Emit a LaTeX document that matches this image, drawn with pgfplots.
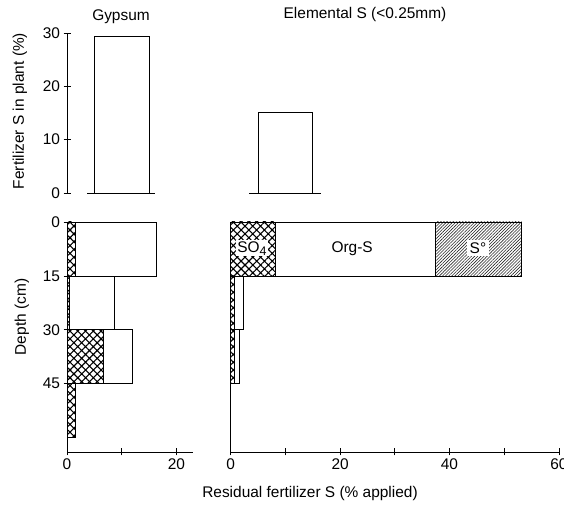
\documentclass[border=0pt]{standalone}
\usepackage{fontspec}
\setmainfont{Liberation Sans}
\usepackage{pgfplots}
\pgfplotsset{compat=1.18}
\usetikzlibrary{patterns.meta}

\newcommand{\lblfont}{\fontsize{15.5}{18}\selectfont}

\tikzset{
  so4/.style={draw=black, line width=0.8bp,
    pattern={Hatch[angle=45,distance=5.5bp,line width=1.1bp]}},
  orgs/.style={draw=black, line width=0.8bp, fill=white},
  selem/.style={draw=black, line width=0.8bp,
    pattern={Lines[angle=45,distance=2.2bp,line width=0.6bp]}, pattern color=black!85},
  plantbar/.style={draw=black, line width=0.8bp, fill=white},
}

\pgfplotsset{
  panel/.style={
    scale only axis, anchor=south west, clip=false,
    axis line style={-, line width=0.8bp},
    every outer x axis line/.append style={-},
    every outer y axis line/.append style={-},
    every inner x axis line/.append style={-},
    every inner y axis line/.append style={-},
    tick style={black, line width=0.8bp},
    tick align=outside, major tick length=7bp,
    tick label style={font=\lblfont},
    /pgf/number format/assume math mode=true,
  },
}

\begin{document}
\begin{tikzpicture}
\useasboundingbox (0,0) rectangle (564bp,510bp);

% ---------- fertilizer S taken up by the plant ----------
\begin{axis}[panel, at={(67bp,317bp)}, width=125.8bp, height=160bp,
  xmin=0, xmax=23, ymin=0, ymax=30,
  axis x line=none, axis y line=left,
  every outer y axis line/.append style={-},
  ytick={0,10,20,30}]
  \addplot[black, line width=0.8bp] coordinates {(3.7,0) (16.1,0)};
  \addplot[plantbar] coordinates {(5,0) (5,29.3) (15,29.3) (15,0)} -- cycle;
\end{axis}

\begin{axis}[panel, at={(230.7bp,317bp)}, width=328.2bp, height=160bp,
  xmin=0, xmax=60, ymin=0, ymax=30, axis lines=none]
  \addplot[black, line width=0.8bp] coordinates {(3.35,0) (16.5,0)};
  \addplot[plantbar] coordinates {(5,0) (5,15.2) (14.9,15.2) (14.9,0)} -- cycle;
\end{axis}

% ---------- residual fertilizer S by depth: gypsum ----------
\begin{axis}[panel, at={(67bp,58bp)}, width=125.8bp, height=230bp,
  xmin=0, xmax=23, ymin=-64, ymax=0,
  axis x line=bottom, axis y line=left,
  every outer x axis line/.append style={-},
  every outer y axis line/.append style={-},
  xtick={0,10,20}, xticklabels={0,,20},
  ytick={-45,-30,-15,0}, yticklabels={45,30,15,0}]
  % 0-15 cm
  \addplot[orgs] coordinates {(0,0) (16.4,0) (16.4,-15) (0,-15)} -- cycle;
  \addplot[so4]  coordinates {(0,0) (1.5,0) (1.5,-15) (0,-15)} -- cycle;
  % 15-30 cm
  \addplot[orgs] coordinates {(0,-15) (8.7,-15) (8.7,-30) (0,-30)} -- cycle;
  \addplot[so4]  coordinates {(0,-15) (0.4,-15) (0.4,-30) (0,-30)} -- cycle;
  % 30-45 cm
  \addplot[orgs] coordinates {(0,-30) (12.0,-30) (12.0,-45) (0,-45)} -- cycle;
  \addplot[so4]  coordinates {(0,-30) (6.7,-30) (6.7,-45) (0,-45)} -- cycle;
  % 45-60 cm
  \addplot[so4]  coordinates {(0,-45) (1.6,-45) (1.6,-60) (0,-60)} -- cycle;
\end{axis}

% ---------- residual fertilizer S by depth: elemental S ----------
\begin{axis}[panel, at={(230.7bp,58bp)}, width=328.2bp, height=230bp,
  xmin=0, xmax=60, ymin=-64, ymax=0,
  axis x line=bottom, axis y line=left,
  every outer x axis line/.append style={-},
  every outer y axis line/.append style={-},
  xtick={0,10,...,60}, xticklabels={0,,20,,40,,60}, ytick=\empty]
  % 0-15 cm
  \addplot[selem] coordinates {(37.5,0) (53.2,0) (53.2,-15) (37.5,-15)} -- cycle;
  \addplot[orgs]  coordinates {(8.1,0) (37.5,0) (37.5,-15) (8.1,-15)} -- cycle;
  \addplot[so4]   coordinates {(0,0) (8.1,0) (8.1,-15) (0,-15)} -- cycle;
  % 15-30 cm
  \addplot[orgs] coordinates {(0,-15) (2.4,-15) (2.4,-30) (0,-30)} -- cycle;
  \addplot[so4]  coordinates {(0,-15) (0.6,-15) (0.6,-30) (0,-30)} -- cycle;
  % 30-45 cm
  \addplot[orgs] coordinates {(0,-30) (1.6,-30) (1.6,-45) (0,-45)} -- cycle;
  \addplot[so4]  coordinates {(0,-30) (0.6,-30) (0.6,-45) (0,-45)} -- cycle;
  % fraction names
  \node[fill=white, inner sep=1bp, font=\lblfont] at (axis cs:3.9,-7.3)
    {SO\raisebox{-0.35ex}{\fontsize{12.5}{14}\selectfont 4}};
  \node[font=\lblfont] at (axis cs:22.2,-7.3) {Org-S};
  \node[fill=white, inner sep=2.5bp, font=\lblfont] at (axis cs:45.2,-7.3) {S°};
\end{axis}

% ---------- titles and axis labels ----------
\node[font=\lblfont] at (121bp,493bp) {Gypsum};
\node[font=\lblfont] at (365bp,495bp) {Elemental S (<0.25mm)};
\node[font=\lblfont, rotate=90] at (20bp,399bp) {Fertilizer S in plant (\%)};
\node[font=\lblfont, rotate=90] at (22bp,193bp) {Depth (cm)};
\node[font=\lblfont] at (310bp,16bp) {Residual fertilizer S (\% applied)};
\end{tikzpicture}
\end{document}
